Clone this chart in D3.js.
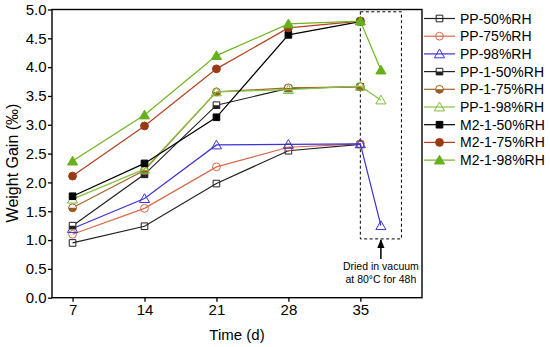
<!doctype html>
<html>
<head>
<meta charset="UTF-8">
<title>Weight Gain</title>
<script src="https://d3js.org/d3.v7.min.js"></script>
<style>
  body { margin: 0; background: #fff; }
  text { font-family: "Liberation Sans", Arial, sans-serif; }
</style>
</head>
<body>
<svg id="chart" width="550" height="347"></svg>
<script>
// data
var days = [7, 14, 21, 28, 35];
var dryDay = 37;
var xTicks = [7, 14, 21, 28, 35];
var yTicks = [0, 0.5, 1, 1.5, 2, 2.5, 3, 3.5, 4, 4.5, 5];

var names = ["PP-50%RH", "PP-75%RH", "PP-98%RH", "PP-1-50%RH", "PP-1-75%RH",
             "PP-1-98%RH", "M2-1-50%RH", "M2-1-75%RH", "M2-1-98%RH"];

var pp50   = [0.95, 1.24, 1.98, 2.55, 2.66];
var pp75   = [1.10, 1.55, 2.27, 2.61, 2.67];
var pp98   = [1.20, 1.72, 2.65, 2.66, 2.67, 1.25];
var pp1_50 = [1.25, 2.14, 3.34, 3.63, 3.66];
var pp1_75 = [1.56, 2.21, 3.57, 3.64, 3.66];
var pp1_98 = [1.71, 2.23, 3.57, 3.61, 3.67, 3.43];
var m2_50  = [1.76, 2.33, 3.13, 4.56, 4.79];
var m2_75  = [2.11, 2.98, 3.97, 4.68, 4.80];
var m2_98  = [2.37, 3.17, 4.20, 4.75, 4.80, 3.95];

var values  = [pp50, pp75, pp98, pp1_50, pp1_75, pp1_98, m2_50, m2_75, m2_98];
var colors  = ["#222222", "#d9694a", "#3b32d4", "#222222", "#a8642a",
               "#86c440", "#000000", "#b4401e", "#6fb421"];
var mColors = ["#222222", "#d9694a", "#3b32d4", "#222222", "#9a5a1e",
               "#7cbd3a", "#000000", "#9a3a14", "#66b01c"];
var shapes  = ["square", "circle", "triangle", "square", "circle",
               "triangle", "square", "circle", "triangle"];
var fills   = ["open", "open", "open", "half", "half",
               "open", "solid", "solid", "solid"];

var svg = d3.select("#chart");
var pLeft = 52, pRight = 422, pTop = 9.5, pBottom = 297.7;

var x = d3.scaleLinear().domain([5, 41]).range([pLeft, pRight]);
var y = d3.scaleLinear().domain([0, 5]).range([pBottom, pTop]);

var defs = svg.append("defs");

// axes
svg.append("g")
  .attr("transform", "translate(0," + pBottom + ")")
  .call(d3.axisBottom(x).tickValues(xTicks).tickSize(4).tickSizeOuter(0).tickPadding(3))
  .call(function (g) {
    g.select(".domain").remove();
    g.selectAll("line").attr("stroke", "#000").attr("stroke-width", 1.3);
    g.selectAll("text").attr("font-size", 15).attr("fill", "#000");
  });

svg.append("g")
  .attr("transform", "translate(" + pLeft + ",0)")
  .call(d3.axisLeft(y).tickValues(yTicks).tickFormat(d3.format(".1f")).tickSize(4).tickSizeOuter(0).tickPadding(1.5))
  .call(function (g) {
    g.select(".domain").remove();
    g.selectAll("line").attr("stroke", "#000").attr("stroke-width", 1.3);
    g.selectAll("text").attr("font-size", 15).attr("fill", "#000");
  });

svg.append("rect")
  .attr("x", pLeft).attr("y", pTop)
  .attr("width", pRight - pLeft).attr("height", pBottom - pTop)
  .attr("fill", "none").attr("stroke", "#000").attr("stroke-width", 1.4);

svg.append("text")
  .attr("transform", "translate(18,163) rotate(-90)")
  .attr("text-anchor", "middle").attr("font-size", 16)
  .text("Weight Gain (‰)");

svg.append("text")
  .attr("x", x(23)).attr("y", 340)
  .attr("text-anchor", "middle").attr("font-size", 15)
  .text("Time (d)");

// dashed box
svg.append("rect")
  .attr("x", x(35)).attr("y", y(4.96))
  .attr("width", x(39) - x(35)).attr("height", y(1.02) - y(4.96))
  .attr("fill", "none").attr("stroke", "#000").attr("stroke-width", 1)
  .attr("stroke-dasharray", "3,2.5");

// arrow
defs.append("marker")
  .attr("id", "arr").attr("viewBox", "0 0 10 10")
  .attr("refX", 9).attr("refY", 5)
  .attr("markerWidth", 6).attr("markerHeight", 6)
  .attr("orient", "auto")
  .append("path").attr("d", "M0,1 L10,5 L0,9 Z").attr("fill", "#000");

svg.append("line")
  .attr("x1", x(dryDay)).attr("x2", x(dryDay))
  .attr("y1", 259).attr("y2", y(1.02) + 1)
  .attr("stroke", "#000").attr("stroke-width", 1.5)
  .attr("marker-end", "url(#arr)");

svg.append("text")
  .attr("x", x(dryDay)).attr("y", 269.5)
  .attr("text-anchor", "middle").attr("font-size", 10.5)
  .text("Dried in vacuum");
svg.append("text")
  .attr("x", x(dryDay)).attr("y", 283)
  .attr("text-anchor", "middle").attr("font-size", 10.5)
  .text("at 80°C for 48h");

// markers
function symbolType(s) {
  if (s == "square") return d3.symbolSquare;
  if (s == "circle") return d3.symbolCircle;
  return d3.symbolTriangle;
}
function symbolSize(s) {
  if (s == "square") return 44;
  if (s == "circle") return 48;
  return 44;
}

var clipCount = 0;
function drawMarker(g, cx, cy, i) {
  var path = d3.symbol().type(symbolType(shapes[i])).size(symbolSize(shapes[i]))();
  var dy = shapes[i] == "triangle" ? 1 : 0;
  var m = g.append("g").attr("transform", "translate(" + cx + "," + (cy + dy) + ")");
  if (fills[i] == "half") {
    var id = "half" + (clipCount++);
    defs.append("clipPath").attr("id", id)
      .append("rect").attr("x", -6).attr("y", 0).attr("width", 12).attr("height", 6);
    m.append("path").attr("d", path).attr("fill", "#fff");
    m.append("path").attr("d", path).attr("fill", mColors[i]).attr("clip-path", "url(#" + id + ")");
    m.append("path").attr("d", path).attr("fill", "none").attr("stroke", mColors[i]).attr("stroke-width", 1);
  } else {
    m.append("path").attr("d", path)
      .attr("fill", fills[i] == "solid" ? mColors[i] : "none")
      .attr("stroke", mColors[i]).attr("stroke-width", 1);
  }
}

var line = d3.line().x(function (d) { return x(d[0]); }).y(function (d) { return y(d[1]); });

values.forEach(function (vals, i) {
  var pts = vals.map(function (v, k) { return [k < days.length ? days[k] : dryDay, v]; });
  var g = svg.append("g");
  g.append("path").attr("d", line(pts))
    .attr("fill", "none").attr("stroke", colors[i]).attr("stroke-width", 1.2);
  pts.forEach(function (p) { drawMarker(g, x(p[0]), y(p[1]), i); });
});

// legend
var leg = svg.append("g");
names.forEach(function (n, i) {
  var ly = 18.5 + i * 17.7;
  leg.append("line").attr("x1", 424).attr("x2", 455).attr("y1", ly).attr("y2", ly)
    .attr("stroke", colors[i]).attr("stroke-width", 1.2);
  drawMarker(leg, 439.5, ly, i);
  leg.append("text").attr("x", 460).attr("y", ly + 5).attr("font-size", 14).text(n);
});
</script>
</body>
</html>
